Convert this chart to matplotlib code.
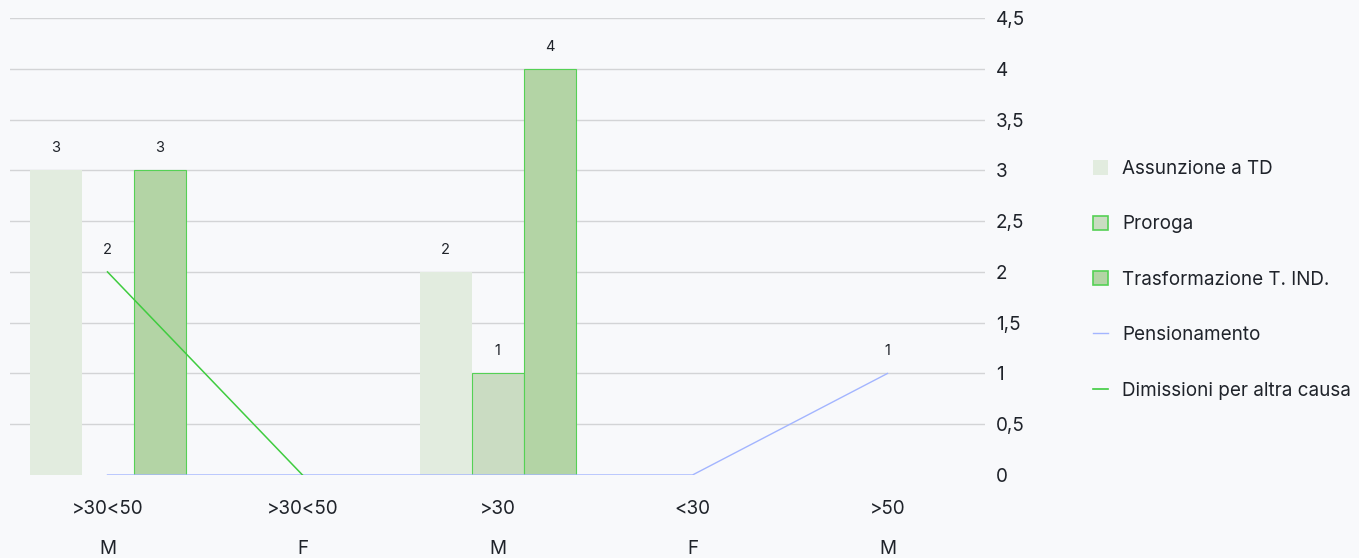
import numpy as np
import matplotlib
matplotlib.use("Agg")
import matplotlib.pyplot as plt
from matplotlib.patches import Patch
from matplotlib.lines import Line2D
from matplotlib.ticker import FuncFormatter

plt.rcParams['font.family'] = ['Inter', 'DejaVu Sans']

age_groups = [">30<50", ">30<50", ">30", "<30", ">50"]
genders = ["M", "F", "M", "F", "M"]

assunzione_td = [3, np.nan, 2, np.nan, np.nan]
proroga = [np.nan, np.nan, 1, np.nan, np.nan]
trasformazione = [3, np.nan, 4, np.nan, np.nan]
pensionamento = [0, 0, 0, 0, 1]
dimissioni = [2, 0, np.nan, np.nan, np.nan]

y_ticks = [0, 0.5, 1, 1.5, 2, 2.5, 3, 3.5, 4, 4.5]

bg = "#f8f9fb"
text_col = "#1f232a"
c_ass = "#e2ecdf"
c_pro = "#cadcc2"
c_tra = "#b3d4a5"
c_edge = "#55d155"
c_pen = "#a3b5ff"
c_dim = "#3fcc3f"
fs = 13.6

W, H = 1359, 558
fig = plt.figure(figsize=(W / 100, H / 100), dpi=100, facecolor=bg)
ax = fig.add_axes([10 / W, 1 - 475 / H, 975 / W, (475 - 18) / H], facecolor=bg)

x = np.arange(len(age_groups))
bw = 0.8 / 3

ax.bar(x - bw, assunzione_td, bw, color=c_ass, linewidth=0, zorder=2)
ax.bar(x, proroga, bw, color=c_pro, edgecolor=c_edge, linewidth=0.8, zorder=2)
ax.bar(x + bw, trasformazione, bw, color=c_tra, edgecolor=c_edge, linewidth=0.8, zorder=2)

ax.plot(x, pensionamento, color=c_pen, linewidth=1.0, zorder=3)
ax.plot(x, dimissioni, color=c_dim, linewidth=1.1, zorder=3)

def label_points(xs, vals):
    for xi, v in zip(xs, vals):
        if np.isnan(v) or v == 0:
            continue
        ax.annotate(f"{v:g}", (xi, v), xytext=(0, 16), textcoords="offset points",
                    ha="center", va="center", fontsize=10.5, color=text_col, zorder=4)

label_points(x - bw, np.array(assunzione_td, float))
label_points(x, np.array(proroga, float))
label_points(x + bw, np.array(trasformazione, float))
label_points(x, np.array(pensionamento, float))
label_points(x, np.array(dimissioni, float))

ax.set_xlim(-0.5, len(x) - 0.5)
ax.set_ylim(0, 4.5)
ax.set_yticks(y_ticks)
ax.yaxis.tick_right()
ax.yaxis.set_major_formatter(FuncFormatter(lambda v, p: f"{v:g}".replace(".", ",")))
ax.tick_params(axis="y", length=0, pad=8, labelsize=fs, labelcolor=text_col)
ax.set_xticks(x)
ax.set_xticklabels([f"{a}\n\n{g}" for a, g in zip(age_groups, genders)],
                   linespacing=1.13)
ax.tick_params(axis="x", length=0, pad=18, labelsize=fs, labelcolor=text_col)
for lbl in ax.get_yticklabels():
    lbl.set_horizontalalignment("left")

ax.grid(axis="y", color="#d3d4d6", linewidth=1.0, zorder=0)
ax.set_axisbelow(True)
ax.yaxis.get_gridlines()[0].set_visible(False)
for s in ax.spines.values():
    s.set_visible(False)

handles = [
    Patch(facecolor=c_ass, edgecolor=c_ass, linewidth=0),
    Patch(facecolor=c_pro, edgecolor=c_edge, linewidth=1.2),
    Patch(facecolor=c_tra, edgecolor=c_edge, linewidth=1.2),
    Line2D([], [], color=c_pen, linewidth=1.0),
    Line2D([], [], color=c_dim, linewidth=1.2),
]
labels = ["Assunzione a TD", "Proroga", "Trasformazione T. IND.", "Pensionamento",
          "Dimissioni per altra causa"]
leg = fig.legend(handles, labels, loc="upper left", bbox_to_anchor=(1093 / W, 1 - 160 / H),
                 frameon=False, fontsize=fs, handlelength=0.78, handleheight=0.78,
                 handletextpad=0.75, labelspacing=1.98, borderpad=0, borderaxespad=0)
for t in leg.get_texts():
    t.set_color(text_col)

fig.savefig("out.png", dpi=100, facecolor=bg)
